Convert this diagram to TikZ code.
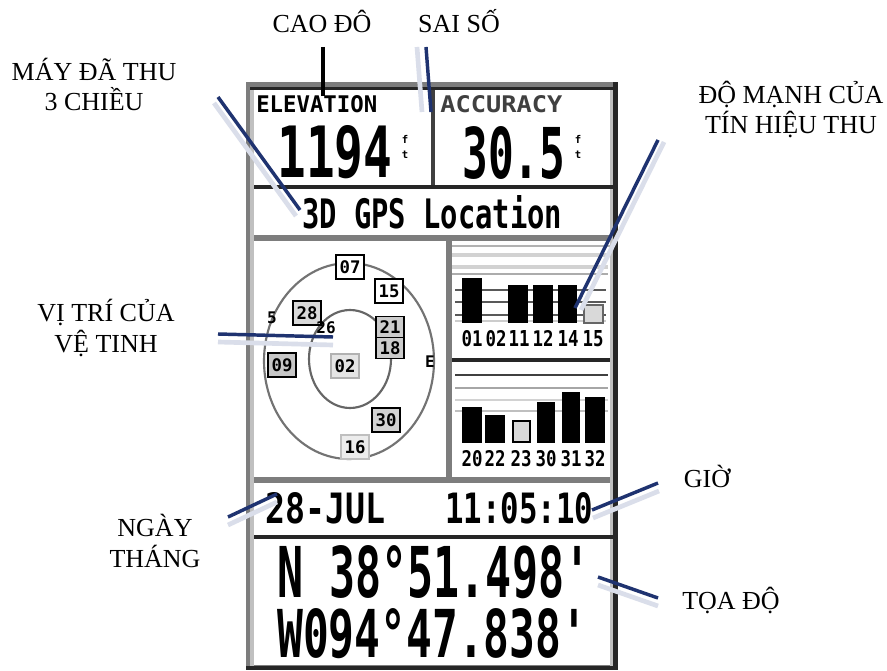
\documentclass[tikz,border=0pt]{standalone}
\usepackage{fontspec}
\setmainfont{Liberation Serif}
\newfontfamily\devfont{DejaVu Sans Mono}
\newlength\pxu
\setlength\pxu{0.75pt}
\newcommand\devtxt[3]{\resizebox{#1\pxu}{#2\pxu}{\devfont\bfseries #3}}
\definecolor{navy}{RGB}{31,51,112}
\definecolor{shadowc}{RGB}{218,222,234}
\definecolor{framegray}{RGB}{125,125,125}
\definecolor{lightg}{RGB}{192,192,192}
\begin{document}
\begin{tikzpicture}[x=0.75pt,y=-0.75pt,
  lbl/.style={font=\fontsize{19.5}{23}\selectfont, align=center, inner sep=0pt, anchor=base},
  dev/.style={inner sep=0pt, anchor=base west},
  leader/.style={draw=navy, line width=2.6pt},
  leadshadow/.style={draw=shadowc, line width=3.5pt},
  satbox/.style={draw=black, line width=1.1pt, inner sep=0pt, minimum width=21pt, minimum height=18pt,
    font=\devfont\bfseries\fontsize{13}{13}\selectfont},
  sattxt/.style={inner sep=0pt, font=\devfont\bfseries\fontsize{12}{12}\selectfont},
  barlbl/.style={inner sep=0pt, anchor=base}]
\useasboundingbox (0,0) rectangle (887,670);
\fill[white] (0,0) rectangle (887,670);

% ---- device frame ----
\fill[framegray] (246,82) rectangle (618,670);
\fill[lightg] (250,88) rectangle (254,666);
\fill[black!85] (250,87) rectangle (613,90);
\fill[white] (254,90) rectangle (431,185);
\fill[white] (435,90) rectangle (610,185);
\fill[black!75] (431,90) rectangle (435,185);
\fill[white] (254,189) rectangle (610,235);
\fill[white] (254,241) rectangle (446,477);
\fill[white] (452,241) rectangle (610,477);
\fill[white] (254,483) rectangle (610,535);
\fill[white] (254,539) rectangle (610,665);
\fill[lightg] (610,90) rectangle (613,666);
\fill[black!85] (254,185) rectangle (613,189);
\fill[black!85] (254,535) rectangle (613,539);
\fill[black!85] (613,82) rectangle (618,670);
\fill[black!85] (246,666) rectangle (618,670);

% ---- elevation / accuracy ----
\node[dev] (elevlbl) at (256,113) {\devtxt{121}{17}{ELEVATION}};
\node[dev, text=black!75] (acclbl) at (440,113) {\devtxt{122}{17}{ACCURACY}};
\node[dev] (elev) at (277,178) {\devtxt{115}{52}{1194}};
\node[sattxt, align=center, font=\devfont\bfseries\fontsize{8}{11}\selectfont] (elevft) at (405,147) {f\\t};
\node[dev] (acc) at (462,178) {\devtxt{103}{52}{30.5}};
\node[sattxt, align=center, font=\devfont\bfseries\fontsize{8}{11}\selectfont] (accft) at (578,147) {f\\t};
\node[dev] (gpsloc) at (302,228) {\devtxt{260}{33}{3D GPS Location}};

% ---- sky view ----
\draw[black!55, line width=1.6pt] (349,361) ellipse [x radius=85, y radius=98];
\draw[black!60, line width=1.6pt] (350,359) ellipse [x radius=41, y radius=49];
\node[satbox, fill=white] (s07) at (350,267) {07};
\node[satbox, fill=white] (s15) at (389,291) {15};
\node[satbox, fill=gray!30] (s28) at (307,313) {28};
\node[sattxt] (s05) at (272,318) {5};
\node[sattxt] (s26) at (326,328) {26};
\node[satbox, fill=gray!40, minimum height=16pt] (s21) at (390,327) {21};
\node[satbox, fill=gray!40, minimum height=16pt] (s18) at (390,348) {18};
\node[satbox, fill=gray!45] (s09) at (282,365) {09};
\node[satbox, fill=gray!20, draw=gray!60] (s02) at (345,366) {02};
\node[satbox, fill=gray!35] (s30) at (386,420) {30};
\node[satbox, fill=gray!15, draw=gray!50] (s16) at (355,447) {16};
\node[sattxt] (east) at (430,362) {E};

% ---- signal bars ----
\draw[gray!60, line width=1.5pt] (452,246) -- (610,246);
\draw[gray!35, line width=3.5pt] (452,255) -- (608,255);
\draw[gray!35, line width=3pt] (452,267) -- (608,267);
\draw[gray!65, line width=2.2pt] (452,274) -- (608,274);
\foreach \yy in {290,302,315} \draw[black!65, line width=1.3pt] (455,\yy) -- (606,\yy);
\draw[gray!40, line width=1.5pt] (455,321) -- (606,321);
\fill (462,278) rectangle (482,323);
\fill (508,285) rectangle (528,323);
\fill (533,285) rectangle (553,323);
\fill (558,285) rectangle (577,323);
\filldraw[fill=gray!30, draw=black!60, line width=1pt] (584,305) rectangle (603,323);
\foreach \xx/\t [count=\i] in {472/01,496/02,519/11,543/12,568/14,593/15}
  \node[barlbl] (ub\i) at (\xx,346) {\devtxt{21}{16}{\t}};
\draw[black!85, line width=2.4pt] (452,360) -- (610,360);
\draw[black!75, line width=2.2pt] (455,375) -- (608,375);
\draw[gray!70, line width=2.2pt] (455,388) -- (608,388);
\draw[gray!35, line width=2pt] (455,400) -- (608,400);
\draw[gray!50, line width=2pt] (455,411) -- (608,411);
\fill (462,407) rectangle (482,443);
\fill (485,415) rectangle (505,443);
\filldraw[fill=gray!30, draw=black, line width=1.5pt] (513,421) rectangle (530,442);
\fill (537,402) rectangle (555,443);
\fill (562,392) rectangle (580,443);
\fill (585,397) rectangle (605,443);
\foreach \xx/\t [count=\i] in {472/20,495/22,521/23,546/30,571/31,595/32}
  \node[barlbl] (lb\i) at (\xx,466) {\devtxt{21}{16}{\t}};

% ---- date / time ----
\node[dev] (date) at (265,523) {\devtxt{120}{31}{28-JUL}};
\node[dev] (time) at (445,523) {\devtxt{148}{31}{11:05:10}};

% ---- coordinates ----
\node[dev] (lat) at (277,597) {\devtxt{313}{52}{N  38°51.498'}};
\node[dev] (lon) at (277,657) {\devtxt{310}{49}{W094°47.838'}};

% ---- labels ----
\node[lbl] (cao) at (322,33) {CAO ĐÔ};
\node[lbl] (sai) at (459,33) {SAI SỐ};
\node[lbl] (may) at (94,111) {MÁY ĐÃ THU\\3 CHIỀU};
\node[lbl] (vitri) at (106,352) {VỊ TRÍ CỦA\\VỆ TINH};
\node[lbl] (ngay) at (155,567) {NGÀY\\THÁNG};
\node[lbl] (domanh) at (791,134) {ĐỘ MẠNH CỦA\\TÍN HIỆU THU};
\node[lbl] (gio) at (707,487) {GIỜ};
\node[lbl] (toado) at (731,609) {TỌA ĐỘ};

% ---- leader end points ----
\coordinate (caoA) at (323,47);   \coordinate (caoB) at (323,96);
\coordinate (saiA) at (426,47);   \coordinate (saiB) at (431,112);
\coordinate (mayA) at (218,97);   \coordinate (mayB) at (300,210);
\coordinate (vtA) at (218,334);   \coordinate (vtB) at (333,337);
\coordinate (ngA) at (228,517);   \coordinate (ngB) at (277,494);
\coordinate (dmA) at (658,140);   \coordinate (dmB) at (575,308);
\coordinate (gioA) at (658,483);  \coordinate (gioB) at (592,510);
\coordinate (tdA) at (658,598);   \coordinate (tdB) at (598,577);

% shadows
\draw[leadshadow, transform canvas={shift={(-9,0)}}] (saiA) -- (saiB);
\draw[leadshadow, transform canvas={shift={(-4,6)}}] (mayA) -- (mayB);
\draw[leadshadow, transform canvas={shift={(0,8)}}] (vtA) -- (vtB);
\draw[leadshadow, transform canvas={shift={(0,8)}}] (ngA) -- (ngB);
\draw[leadshadow, transform canvas={shift={(6,2)}}] (dmA) -- (dmB);
\draw[leadshadow, transform canvas={shift={(1,8)}}] (gioA) -- (gioB);
\draw[leadshadow, transform canvas={shift={(0,8)}}] (tdA) -- (tdB);

% leaders
\draw[line width=2.4pt] (caoA) -- (caoB);
\draw[leader] (saiA) -- (saiB);
\draw[leader] (mayA) -- (mayB);
\draw[leader] (vtA) -- (vtB);
\draw[leader] (ngA) -- (ngB);
\draw[leader] (dmA) -- (dmB);
\draw[leader] (gioA) -- (gioB);
\draw[leader] (tdA) -- (tdB);
\end{tikzpicture}
\end{document}
